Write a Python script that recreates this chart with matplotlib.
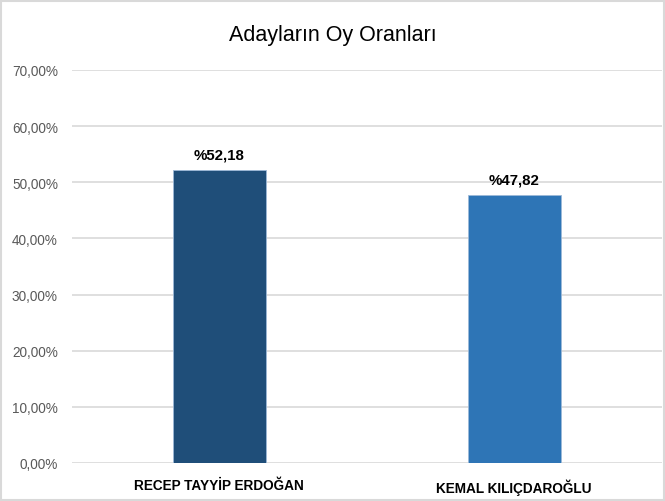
import matplotlib.pyplot as plt
from matplotlib.patches import Rectangle

candidates = ["RECEP TAYYİP ERDOĞAN", "KEMAL KILIÇDAROĞLU"]
vote_share = [52.18, 47.82]
bar_colors = ["#1F4E79", "#2E75B6"]
y_ticks = [0, 10, 20, 30, 40, 50, 60, 70]

plt.rcParams['font.family'] = ['Liberation Sans Narrow', 'Liberation Sans', 'DejaVu Sans']

fig = plt.figure(figsize=(6.65, 5.02), dpi=100)
ax = fig.add_axes([0.108, 0.0757, 0.887, 0.7829])

x = range(len(candidates))
bars = ax.bar(x, vote_share, width=0.315, color=bar_colors, edgecolor="#9DB9D8", linewidth=0.6, zorder=3)

for b, v in zip(bars, vote_share):
    ax.text(b.get_x() + b.get_width() / 2, v + 1.5, "%" + f"{v:.2f}".replace(".", ","),
            ha="center", va="bottom", fontsize=10.8, fontweight="bold", color="black")

ax.set_xlim(-0.5, 1.5)
ax.set_ylim(0, 70)
ax.set_yticks(y_ticks)
ax.set_yticklabels([f"{t:.2f}".replace(".", ",") + "%" for t in y_ticks], color="#595959", fontsize=9.8)
ax.set_xticks(list(x))
ax.set_xticklabels(candidates, fontsize=9.8, fontweight="bold", color="black")
ax.tick_params(axis="y", length=0, pad=10)
ax.tick_params(axis="x", length=0, pad=11)
ax.grid(axis="y", color="#D9D9D9", linewidth=1.2, zorder=0)
for s in ax.spines.values():
    s.set_visible(False)

fig.text(0.5, 0.93, "Adayların Oy Oranları", ha="center", va="center", fontsize=15.5, color="black")
fig.patches.append(Rectangle((0.002, 0.002), 0.996, 0.994, transform=fig.transFigure,
                             fill=False, edgecolor="#D9D9D9", linewidth=1.5))

fig.savefig("out.png", dpi=100)
